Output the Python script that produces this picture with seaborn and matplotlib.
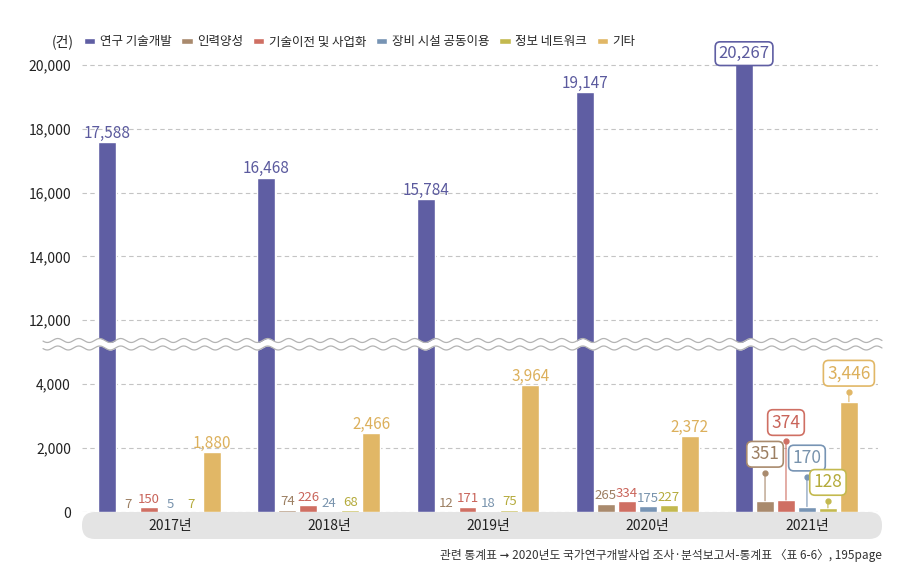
import numpy as np
import pandas as pd
import matplotlib.pyplot as plt
import seaborn as sns
from matplotlib.patches import FancyBboxPatch
from matplotlib.transforms import ScaledTranslation, blended_transform_factory

years = ['2017년', '2018년', '2019년', '2020년', '2021년']
categories = ['연구 기술개발', '인력양성', '기술이전 및 사업화', '장비 시설 공동이용', '정보 네트워크', '기타']
research = [17588, 16468, 15784, 19147, 20267]
training = [7, 74, 12, 265, 351]
transfer = [150, 226, 171, 334, 374]
equipment = [5, 24, 18, 175, 170]
network = [7, 68, 75, 227, 128]
etc = [1880, 2466, 3964, 2372, 3446]
series = [research, training, transfer, equipment, network, etc]

colors = ['#5f5ea3', '#a98a6d', '#cf6f63', '#7794b4', '#c3b94f', '#e1b766']
label_colors = ['#5b5a9e', '#9c7f62', '#c9645a', '#7893ad', '#b5ab3c', '#dcb05c']
# leader lengths (px) for the boxed 2021 labels of the small series
lift_px = [28, 59, 30, 7, 10]

rows = []
for cat, vals in zip(categories, series):
    for yr, v in zip(years, vals):
        rows.append({'year': yr, 'category': cat, 'value': v})
df = pd.DataFrame(rows)

sns.set_theme(style='white')
plt.rcParams['font.family'] = ['Noto Sans CJK KR', 'DejaVu Sans']
plt.rcParams['axes.unicode_minus'] = False

W, H = 907, 569
fig = plt.figure(figsize=(W / 100, H / 100), dpi=100)
fig.patch.set_facecolor('white')

x0, x1 = 82 / W, 878 / W
ax_top = fig.add_axes([x0, 1 - 344 / H, x1 - x0, (344 - 50) / H])
ax_bot = fig.add_axes([x0, 1 - 512 / H, x1 - x0, (512 - 344) / H])

for ax, show_leg in ((ax_top, False), (ax_bot, True)):
    sns.barplot(data=df, x='year', y='value', hue='category', hue_order=categories,
                order=years, palette=colors, saturation=1, width=0.79, gap=0.145,
                ax=ax, legend=show_leg)
    ax.set_xlim(-0.487, 4.512)
    ax.set_xlabel('')
    ax.set_ylabel('')
    ax.set_xticks([])
    for s in ax.spines.values():
        s.set_visible(False)
    ax.grid(axis='y', linestyle=(0, (4, 3)), color='#c4c4c4', linewidth=0.8)
    ax.grid(axis='x', visible=False)
    ax.set_axisbelow(True)
    ax.tick_params(axis='y', length=0, pad=8, labelsize=10, labelcolor='#222222')

ax_top.set_ylim(11250, 20469)
ax_top.set_yticks([12000, 14000, 16000, 18000, 20000])
ax_bot.set_ylim(0, 5250)
ax_bot.set_yticks([0, 2000, 4000])
for ax in (ax_top, ax_bot):
    ax.set_yticklabels([f'{int(t):,}' for t in ax.get_yticks()])

handles, labels = ax_bot.get_legend_handles_labels()
ax_bot.legend_.remove()

# value labels
for k, vals in enumerate(series):
    ax = ax_top if k == 0 else ax_bot
    bars = ax.containers[k]
    for j, v in enumerate(vals):
        p = bars[j]
        xc = p.get_x() + p.get_width() / 2
        txt = f'{v:,}'
        if j == len(years) - 1:
            if k == 0:
                ax.annotate(txt, xy=(xc, v), xytext=(0, 2), textcoords='offset points',
                            ha='center', va='center', fontsize=12, color=label_colors[k],
                            bbox=dict(boxstyle='round,pad=0.2,rounding_size=0.3',
                                      fc='white', ec=colors[k], lw=1.2), zorder=5,
                            annotation_clip=False)
            else:
                lift = lift_px[k - 1] * 0.72
                ax.annotate('', xy=(xc, v), xytext=(0, lift), textcoords='offset points',
                            arrowprops=dict(arrowstyle='-', color=colors[k], lw=0.8,
                                            shrinkA=0, shrinkB=0), zorder=4)
                ax.plot([xc], [v], marker='o', ms=3.5, color=colors[k], zorder=4,
                        transform=ax.transData + ScaledTranslation(0, lift / 72, fig.dpi_scale_trans))
                ax.annotate(txt, xy=(xc, v), xytext=(0, lift + 18.5 * 0.72),
                            textcoords='offset points', ha='center', va='center',
                            fontsize=12.5, color=label_colors[k],
                            bbox=dict(boxstyle='round,pad=0.22,rounding_size=0.3',
                                      fc='white', ec=colors[k], lw=1.2), zorder=5)
        else:
            fs = 11 if k in (0, 5) else 9.5
            ax.annotate(txt, xy=(xc, v), xytext=(0, 3), textcoords='offset points',
                        ha='center', va='baseline', fontsize=fs, color=label_colors[k])

# overlay: axis band and break waves
ov = fig.add_axes([0, 0, 1, 1], facecolor='none')
ov.set_xlim(0, W)
ov.set_ylim(H, 0)
ov.axis('off')
ov.add_patch(FancyBboxPatch((82, 512), 800, 27, boxstyle='round,pad=0,rounding_size=13',
                            fc='#e4e4e4', ec='none'))
xs = np.linspace(43, 882, 1200)
yu = 340.5 + 2.0 * np.sin(2 * np.pi * xs / 21)
yl = yu + 7.5
ov.fill_between(xs, yu, yl, color='white', lw=0)
ov.plot(xs, yu, color='#b3b3b3', lw=0.9)
ov.plot(xs, yl, color='#b3b3b3', lw=0.9)

# year labels inside the band, placed on the bar axis' x scale
band_tr = blended_transform_factory(ax_bot.transData, ov.transData)
for j, yr in enumerate(years):
    ov.text(j + 0.065, 526, yr, transform=band_tr, ha='center', va='center',
            fontsize=10, color='#222222')

fig.text(52 / W, 1 - 42 / H, '(건)', ha='left', va='center', fontsize=10, color='#222222')
fig.legend(handles, labels, loc='center left', bbox_to_anchor=(84 / W, 1 - 42 / H),
           ncol=6, frameon=False, fontsize=9, handlelength=0.9, handleheight=0.4,
           handletextpad=0.35, columnspacing=0.8, borderpad=0, borderaxespad=0)

fig.text(882 / W, 1 - 556 / H, '관련 통계표 ➞ 2020년도 국가연구개발사업 조사·분석보고서-통계표 〈표 6-6〉, 195page',
         ha='right', va='center', fontsize=8.5, style='italic', color='#333333')

fig.savefig('out.png', dpi=100, facecolor='white')
